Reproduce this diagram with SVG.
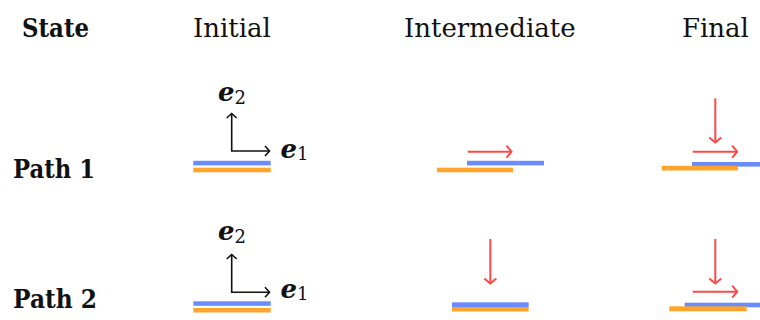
<svg xmlns="http://www.w3.org/2000/svg" width="760" height="320" viewBox="0 0 760 320">
<style>
.hd{font-family:"DejaVu Serif","Liberation Serif",serif;font-size:26px;fill:#111}
.bd{font-family:"DejaVu Serif","Liberation Serif",serif;font-size:26px;font-weight:bold;fill:#111}
.ev{font-family:"DejaVu Serif","Liberation Serif",serif;font-size:26px;font-weight:bold;font-style:italic;fill:#111}
.sub{font-family:"DejaVu Serif","Liberation Serif",serif;font-size:18px;fill:#111}
.blue{fill:#6a8cff}
.orange{fill:#ffa42c}
.ax{fill:none;stroke:#111;stroke-width:1.6}
.red{fill:none;stroke:#ff4848;stroke-width:2}
</style>
<defs>
<marker id="hk" viewBox="-7 -7 9 14" markerWidth="9" markerHeight="14" refX="0" refY="0" markerUnits="userSpaceOnUse" orient="auto-start-reverse">
<path d="M-4.5,-5 L0,0 L-4.5,5" fill="none" stroke="#111" stroke-width="1.6"/>
</marker>
<marker id="hr" viewBox="-8 -8 10 16" markerWidth="10" markerHeight="16" refX="0" refY="0" markerUnits="userSpaceOnUse" orient="auto">
<path d="M-5,-6 L0,0 L-5,6" fill="none" stroke="#ff4848" stroke-width="2"/>
</marker>
</defs>

<g id="headers">
<text class="bd" x="22" y="37" textLength="67" lengthAdjust="spacingAndGlyphs">State</text>
<text class="hd" x="193" y="37">Initial</text>
<text class="hd" x="404" y="37">Intermediate</text>
<text class="hd" x="682" y="37">Final</text>
</g>
<g id="row-labels">
<text class="bd" x="13" y="177.5" textLength="82" lengthAdjust="spacingAndGlyphs">Path 1</text>
<text class="bd" x="13" y="308" textLength="84" lengthAdjust="spacingAndGlyphs">Path 2</text>
</g>

<g id="p1-initial">
<rect class="blue" x="193.3" y="160.8" width="77.4" height="4.6"/>
<rect class="orange" x="193.3" y="167.7" width="77.4" height="4.6"/>
<text class="ev" x="218" y="101">e<tspan class="sub" dy="2.5" font-style="normal" font-weight="normal">2</tspan></text>
<text class="ev" x="280.5" y="157.5">e<tspan class="sub" dy="2.5" font-style="normal" font-weight="normal">1</tspan></text>
</g>
<g id="p1-intermediate">
<rect class="blue" x="467" y="160.8" width="77" height="4.6"/>
<rect class="orange" x="437" y="167.7" width="76" height="4.6"/>
</g>
<g id="p1-final">
<rect class="blue" x="692" y="162" width="68" height="4.6"/>
<rect class="orange" x="661.7" y="165.8" width="76.3" height="4.7"/>
</g>
<g id="p2-initial">
<rect class="blue" x="193.3" y="301.3" width="77.4" height="4.5"/>
<rect class="orange" x="193.3" y="308" width="77.4" height="4.5"/>
<text class="ev" x="218" y="240">e<tspan class="sub" dy="2.5" font-style="normal" font-weight="normal">2</tspan></text>
<text class="ev" x="280.5" y="297.5">e<tspan class="sub" dy="2.5" font-style="normal" font-weight="normal">1</tspan></text>
</g>
<g id="p2-intermediate">
<rect class="blue" x="452" y="302.3" width="76.7" height="4.8"/>
<rect class="orange" x="452" y="307" width="76.7" height="4.5"/>
</g>
<g id="p2-final">
<rect class="blue" x="684.7" y="302.7" width="75.3" height="4.6"/>
<rect class="orange" x="669.3" y="306.3" width="77.4" height="5"/>
</g>

<g id="connectors">
<path class="ax" d="M231.7,113.5 L231.7,151 L269.5,151" marker-start="url(#hk)" marker-end="url(#hk)"/>
<path class="ax" d="M231.7,254.5 L231.7,292.3 L269.5,292.3" marker-start="url(#hk)" marker-end="url(#hk)"/>
<path class="red" d="M467.7,151.7 L511.5,151.7" marker-end="url(#hr)"/>
<path class="red" d="M715.3,98.3 L715.3,142.5" marker-end="url(#hr)"/>
<path class="red" d="M692.7,151.7 L737.2,151.7" marker-end="url(#hr)"/>
<path class="red" d="M490.3,239 L490.3,283.5" marker-end="url(#hr)"/>
<path class="red" d="M715.3,239 L715.3,283.5" marker-end="url(#hr)"/>
<path class="red" d="M692.7,291.7 L737.2,291.7" marker-end="url(#hr)"/>
</g>
</svg>
